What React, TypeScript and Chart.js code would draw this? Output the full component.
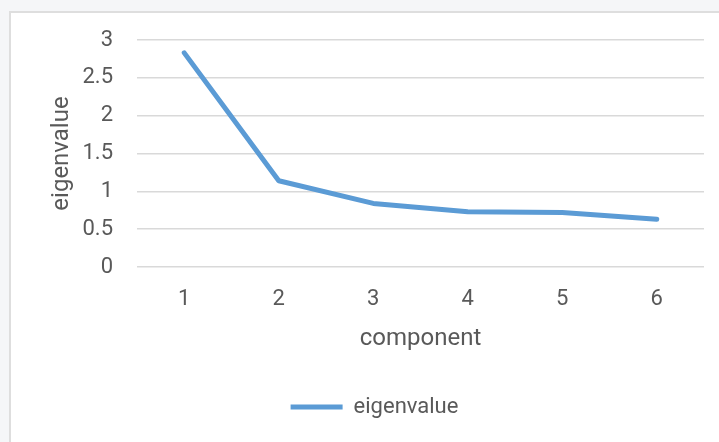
import React, { useEffect, useRef } from "react";
import { Chart, registerables } from "chart.js";

Chart.register(...registerables);

const components = ["1", "2", "3", "4", "5", "6"];
const eigenvalues = [2.83, 1.14, 0.84, 0.73, 0.72, 0.63];
const seriesName = "eigenvalue";
const xTitle = "component";
const yTitle = "eigenvalue";
const yMin = 0;
const yMax = 3;
const yStep = 0.5;

const FONT = "Roboto, 'Liberation Sans', Arial, sans-serif";
const TEXT = "#595959";
const GRID = "#d9d9d9";
const LINE = "#5b9bd5";

export default function App() {
  const ref = useRef<HTMLCanvasElement | null>(null);

  useEffect(() => {
    if (!ref.current) return;
    const chart = new Chart(ref.current, {
      type: "line",
      data: {
        labels: components,
        datasets: [
          {
            label: seriesName,
            data: eigenvalues,
            borderColor: LINE,
            backgroundColor: LINE,
            borderWidth: 5,
            pointRadius: 0,
            pointHoverRadius: 0,
            tension: 0,
            borderCapStyle: "round",
            borderJoinStyle: "round",
            fill: false,
          },
        ],
      },
      options: {
        responsive: false,
        animation: false,
        layout: { padding: { left: 34, right: 15, top: 27, bottom: 14 } },
        plugins: {
          tooltip: { enabled: false },
          legend: {
            display: true,
            position: "bottom",
            labels: {
              usePointStyle: true,
              pointStyle: "line",
              pointStyleWidth: 52,
              color: TEXT,
              padding: 10,
              font: { family: FONT, size: 22 },
            },
          },
        },
        scales: {
          x: {
            type: "category",
            offset: true,
            grid: { display: false, drawTicks: false },
            border: { display: false },
            ticks: {
              color: TEXT,
              padding: 19,
              font: { family: FONT, size: 22 },
            },
            title: {
              display: true,
              text: xTitle,
              color: TEXT,
              font: { family: FONT, size: 24 },
              padding: { top: 0, bottom: 33 },
            },
            afterFit: (scale: any) => {
              scale.height = 119;
            },
          },
          y: {
            min: yMin,
            max: yMax,
            grid: {
              color: GRID,
              lineWidth: 1.5,
              drawTicks: true,
              tickLength: 24,
              tickColor: "rgba(0,0,0,0)",
            },
            border: { display: false },
            ticks: {
              stepSize: yStep,
              color: TEXT,
              padding: 0,
              font: { family: FONT, size: 22 },
              callback: (v: any) => String(v),
            },
            title: {
              display: true,
              text: yTitle,
              color: TEXT,
              font: { family: FONT, size: 24 },
              padding: { top: 3, bottom: 0 },
            },
            afterFit: (scale: any) => {
              scale.width = 92;
            },
          },
        },
      },
    });
    return () => chart.destroy();
  }, []);

  return (
    <div
      style={{
        position: "fixed",
        left: 0,
        top: 0,
        width: 719,
        height: 442,
        overflow: "hidden",
        background: "#f5f6f8",
      }}
    >
      <div
        style={{
          position: "absolute",
          left: 9,
          top: 11,
          width: 730,
          height: 450,
          background: "#ffffff",
          borderLeft: "2px solid #dedede",
          borderTop: "2px solid #dedede",
        }}
      />
      <canvas
        ref={ref}
        width={708}
        height={429}
        style={{ position: "absolute", left: 11, top: 13, width: 708, height: 429 }}
      />
    </div>
  );
}
